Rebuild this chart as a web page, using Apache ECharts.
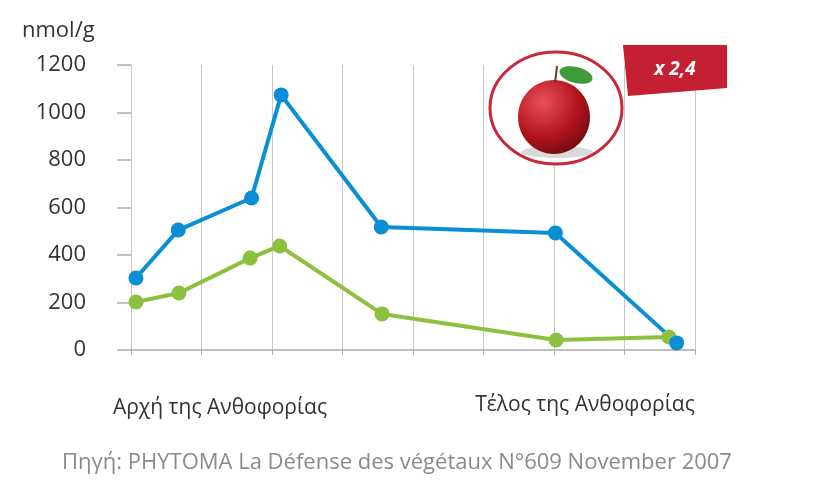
<!DOCTYPE html>
<html><head><meta charset="utf-8">
<script src="https://cdn.jsdelivr.net/npm/echarts@6/dist/echarts.min.js"></script>
<style>html,body{margin:0;padding:0;background:#fff}#c{width:833px;height:497px}</style>
</head><body><div id="c"></div>
<script>
const blueX = [0.07, 0.67, 1.71, 2.13, 3.55, 6.02, 7.74];
const blueY = [303, 505, 640, 1074, 518, 493, 30];
const greenX = [0.07, 0.68, 1.69, 2.11, 3.56, 6.03, 7.63];
const greenY = [202, 240, 387, 438, 152, 42, 55];
const yTicks = [0, 200, 400, 600, 800, 1000, 1200];
const catLabels = ['Αρχή της Ανθοφορίας', 'Τέλος της Ανθοφορίας'];
const unit = 'nmol/g';
const source = 'Πηγή: PHYTOMA La Défense des végétaux N°609 November 2007';
const badge = 'x 2,4';

const font = '"Open Sans", "Noto Sans", sans-serif';
const chart = echarts.init(document.getElementById('c'));
chart.setOption({
  animation: false,
  grid: {left: 131, right: 138, top: 65, bottom: 147},
  xAxis: {type: 'value', min: 0, max: 8, interval: 1,
    axisLine: {show: true, lineStyle: {color: '#aaa', width: 1.5}},
    axisTick: {show: true, length: 5, lineStyle: {color: '#aaa'}},
    axisLabel: {show: false},
    splitLine: {show: true, lineStyle: {color: '#c8c8c8', width: 1}}},
  yAxis: {type: 'value', min: 0, max: 1200, interval: 200, offset: 12,
    axisLine: {show: false},
    axisTick: {show: true, length: 14, lineStyle: {color: '#aaa', width: 1.5}},
    axisLabel: {color: '#333', fontSize: 22, fontFamily: font, margin: 33,
      formatter: v => yTicks.includes(v) ? String(v) : ''},
    splitLine: {show: false}},
  series: [
    {type: 'line', data: greenX.map((x, i) => [x, greenY[i]]), symbol: 'circle', symbolSize: 15,
      lineStyle: {color: '#8dc03f', width: 4}, itemStyle: {color: '#8dc03f'}},
    {type: 'line', data: blueX.map((x, i) => [x, blueY[i]]), symbol: 'circle', symbolSize: 15,
      lineStyle: {color: '#0a8fd4', width: 4}, itemStyle: {color: '#0a8fd4'}}
  ],
  graphic: [
    {type: 'text', left: 22, top: 20, style: {text: unit, fontSize: 22, fontFamily: font, fill: '#333'}},
    {type: 'text', x: 220, y: 408, style: {text: catLabels[0], fontSize: 21, fontFamily: font, fill: '#333', align: 'center', verticalAlign: 'middle'}},
    {type: 'text', x: 585, y: 405, style: {text: catLabels[1], fontSize: 21, fontFamily: font, fill: '#333', align: 'center', verticalAlign: 'middle'}},
    {type: 'text', x: 397, y: 463, style: {text: source, fontSize: 22, fontFamily: font, fill: '#8a8a8a', align: 'center', verticalAlign: 'middle'}},
    {type: 'ellipse', shape: {cx: 556, cy: 108, rx: 66, ry: 56}, style: {fill: '#fff', stroke: '#c8283c', lineWidth: 3}, z: 10},
    {type: 'ellipse', shape: {cx: 557, cy: 152, rx: 36, ry: 6}, style: {fill: 'rgba(0,0,0,0.15)'}, z: 11},
    {type: 'ellipse', shape: {cx: 554, cy: 117, rx: 36, ry: 37},
      style: {fill: new echarts.graphic.RadialGradient(0.35, 0.3, 0.8, [{offset: 0, color: '#e8505a'}, {offset: 0.6, color: '#b3141f'}, {offset: 1, color: '#6e0a10'}])}, z: 12},
    {type: 'line', shape: {x1: 555, y1: 83, x2: 557, y2: 66}, style: {stroke: '#6b3a1c', lineWidth: 2}, z: 13},
    {type: 'ellipse', shape: {cx: 576, cy: 75, rx: 17, ry: 8}, rotation: -0.25, originX: 576, originY: 75,
      style: {fill: '#3f9a3a'}, z: 13},
    {type: 'polygon', shape: {points: [[623, 45], [727, 45], [727, 88], [628, 96]]}, style: {fill: '#c41f33'}, z: 10},
    {type: 'text', x: 675, y: 70, style: {text: badge, fontSize: 19, fontWeight: 'bold', fontStyle: 'italic', fontFamily: font, fill: '#fff', align: 'center', verticalAlign: 'middle'}, z: 11}
  ]
});
</script></body></html>
